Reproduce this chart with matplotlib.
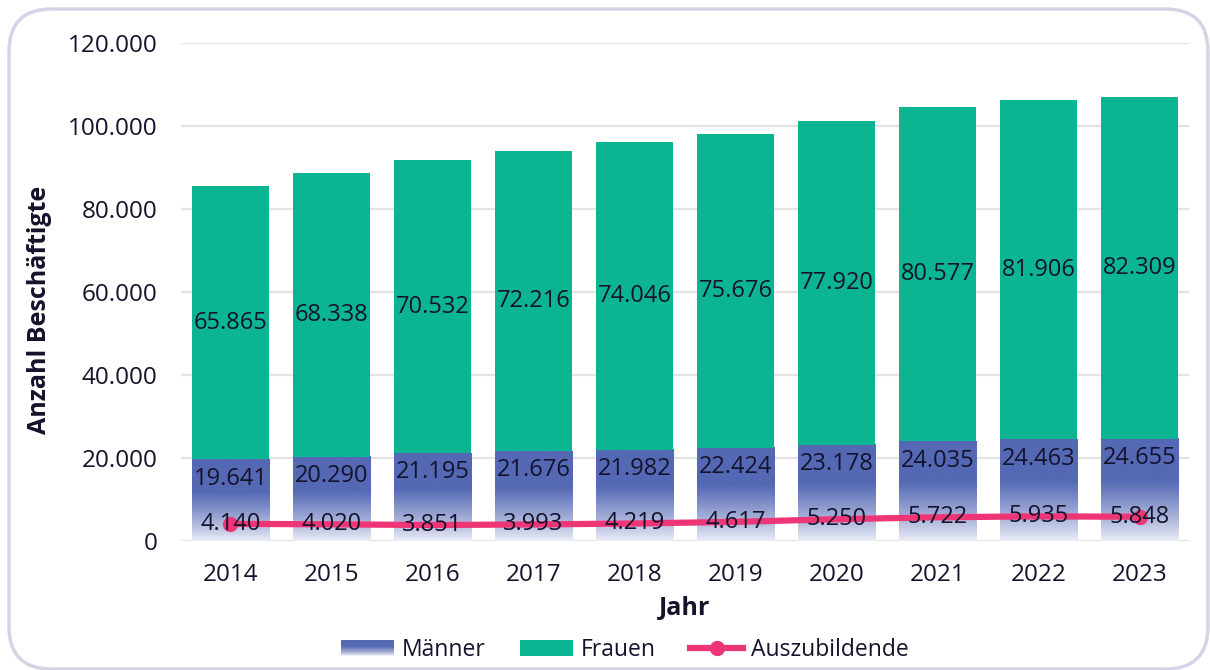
import matplotlib
matplotlib.use("Agg")
import matplotlib.pyplot as plt
import numpy as np
from matplotlib.patches import Rectangle, FancyBboxPatch
from matplotlib.legend_handler import HandlerBase
from matplotlib.lines import Line2D
from matplotlib.colors import to_rgb

years = ["2014", "2015", "2016", "2017", "2018", "2019", "2020", "2021", "2022", "2023"]
maenner = [19641, 20290, 21195, 21676, 21982, 22424, 23178, 24035, 24463, 24655]
frauen = [65865, 68338, 70532, 72216, 74046, 75676, 77920, 80577, 81906, 82309]
azubis = [4140, 4020, 3851, 3993, 4219, 4617, 5250, 5722, 5935, 5848]
y_ticks = [0, 20000, 40000, 60000, 80000, 100000, 120000]

TXT = "#14132b"
GREEN = "#0cb591"
BLUE_DARK = "#5468b4"
BLUE_LIGHT = "#eef0f8"
PINK = "#ee3677"
GRID = "#e3e3e3"
BORDER = "#d5d4e6"

plt.rcParams['font.family'] = ['Open Sans', 'DejaVu Sans']
FW = "medium"

def fmt(v):
    return f"{v:,.0f}".replace(",", ".")

def grad_colors(n):
    d = np.array(to_rgb(BLUE_DARK)); l = np.array(to_rgb(BLUE_LIGHT))
    t = np.linspace(0, 1, n)  # 0 bottom, 1 top
    s = np.clip(t / 0.6, 0, 1)
    s = s ** 0.85
    return l[None, :] * (1 - s[:, None]) + d[None, :] * s[:, None]

fig = plt.figure(figsize=(12.1, 6.7), dpi=100)
W, H = 1210, 670
ax = fig.add_axes([181 / W, 1 - 541 / H, (1189 - 181) / W, (541 - 43) / H])

x = np.arange(len(years))
bw = 0.77

# Männer bars with gradient
bars_m = ax.bar(x, maenner, width=bw, color="none", zorder=2)
cols = grad_colors(256)
img = cols[::-1][:, None, :]
for b in bars_m:
    x0 = b.get_x(); w = b.get_width(); h = b.get_height()
    ax.imshow(img, extent=[x0, x0 + w, 0, h], aspect="auto", zorder=2, interpolation="bilinear")

bars_f = ax.bar(x, frauen, width=bw, bottom=maenner, color=GREEN, zorder=2)

ax.plot(x, azubis, color=PINK, lw=4.5, solid_capstyle="round", zorder=3,
        marker="o", markersize=10, markevery=[0, len(x) - 1])

ax.set_xlim(-0.49, len(x) - 0.51)
ax.set_ylim(0, 120000)
ax.set_yticks(y_ticks)
ax.set_yticklabels([fmt(v) for v in y_ticks])
ax.set_xticks(x)
ax.set_xticklabels(years)
ax.tick_params(axis="both", length=0, labelsize=17.5, labelcolor=TXT)
for lab in ax.get_xticklabels() + ax.get_yticklabels():
    lab.set_fontweight(FW)
ax.tick_params(axis="x", pad=16)
ax.tick_params(axis="y", pad=17)
ax.grid(axis="y", color=GRID, lw=1.6, zorder=0)
ax.set_axisbelow(True)
for s in ax.spines.values():
    s.set_visible(False)

for i in range(len(x)):
    ax.text(x[i], maenner[i] + frauen[i] / 2, fmt(frauen[i]), ha="center", va="center",
            fontsize=17, color=TXT, zorder=5, fontweight=FW)
    ax.annotate(fmt(maenner[i]), (x[i], maenner[i]), xytext=(0, -14), textcoords="offset points",
                ha="center", va="center", fontsize=17, color=TXT, zorder=5, fontweight=FW)
    ax.text(x[i], azubis[i], fmt(azubis[i]), ha="center", va="center",
            fontsize=17, color=TXT, zorder=5, fontweight=FW)

ax.set_xlabel("Jahr", fontsize=18, fontweight="bold", color=TXT)
ax.xaxis.set_label_coords(0.5, (541 - 596) / 498)
ax.set_ylabel("Anzahl Beschäftigte", fontsize=18, fontweight="bold", color=TXT)
ax.yaxis.label.set_va("center")
ax.yaxis.set_label_coords((40 - 181) / 1008, (541 - 310) / 498)

class GradHandler(HandlerBase):
    def create_artists(self, legend, orig_handle, xdescent, ydescent, width, height, fontsize, trans):
        n = 30
        c = grad_colors(n)
        arts = []
        for k in range(n):
            r = Rectangle((-xdescent, -ydescent + height * k / n), width, height / n + 0.05,
                          facecolor=c[k], edgecolor="none", transform=trans)
            arts.append(r)
        return arts

h_m = Rectangle((0, 0), 1, 1)
h_f = Rectangle((0, 0), 1, 1, facecolor=GREEN, edgecolor="none")
h_a = Line2D([], [], color=PINK, lw=4.5, marker="o", markersize=10)
leg = fig.legend([h_m, h_f, h_a], ["Männer", "Frauen", "Auszubildende"],
                 handler_map={h_m: GradHandler()}, loc="center",
                 bbox_to_anchor=(625 / W, 1 - 650 / H), ncol=3, frameon=False,
                 prop={"size": 16.5, "weight": FW}, labelcolor=TXT, handlelength=2.3,
                 handleheight=0.65, handletextpad=0.35, columnspacing=1.5)

border = FancyBboxPatch((9 / W, 1 / H), (1208 - 9) / W, (661 - 1) / H,
                        boxstyle="round,pad=0,rounding_size=0.035",
                        transform=fig.transFigure, facecolor="none",
                        edgecolor=BORDER, lw=2.5, zorder=10, mutation_aspect=W / H)
fig.patches.append(border)

fig.savefig("out.png", dpi=100)
